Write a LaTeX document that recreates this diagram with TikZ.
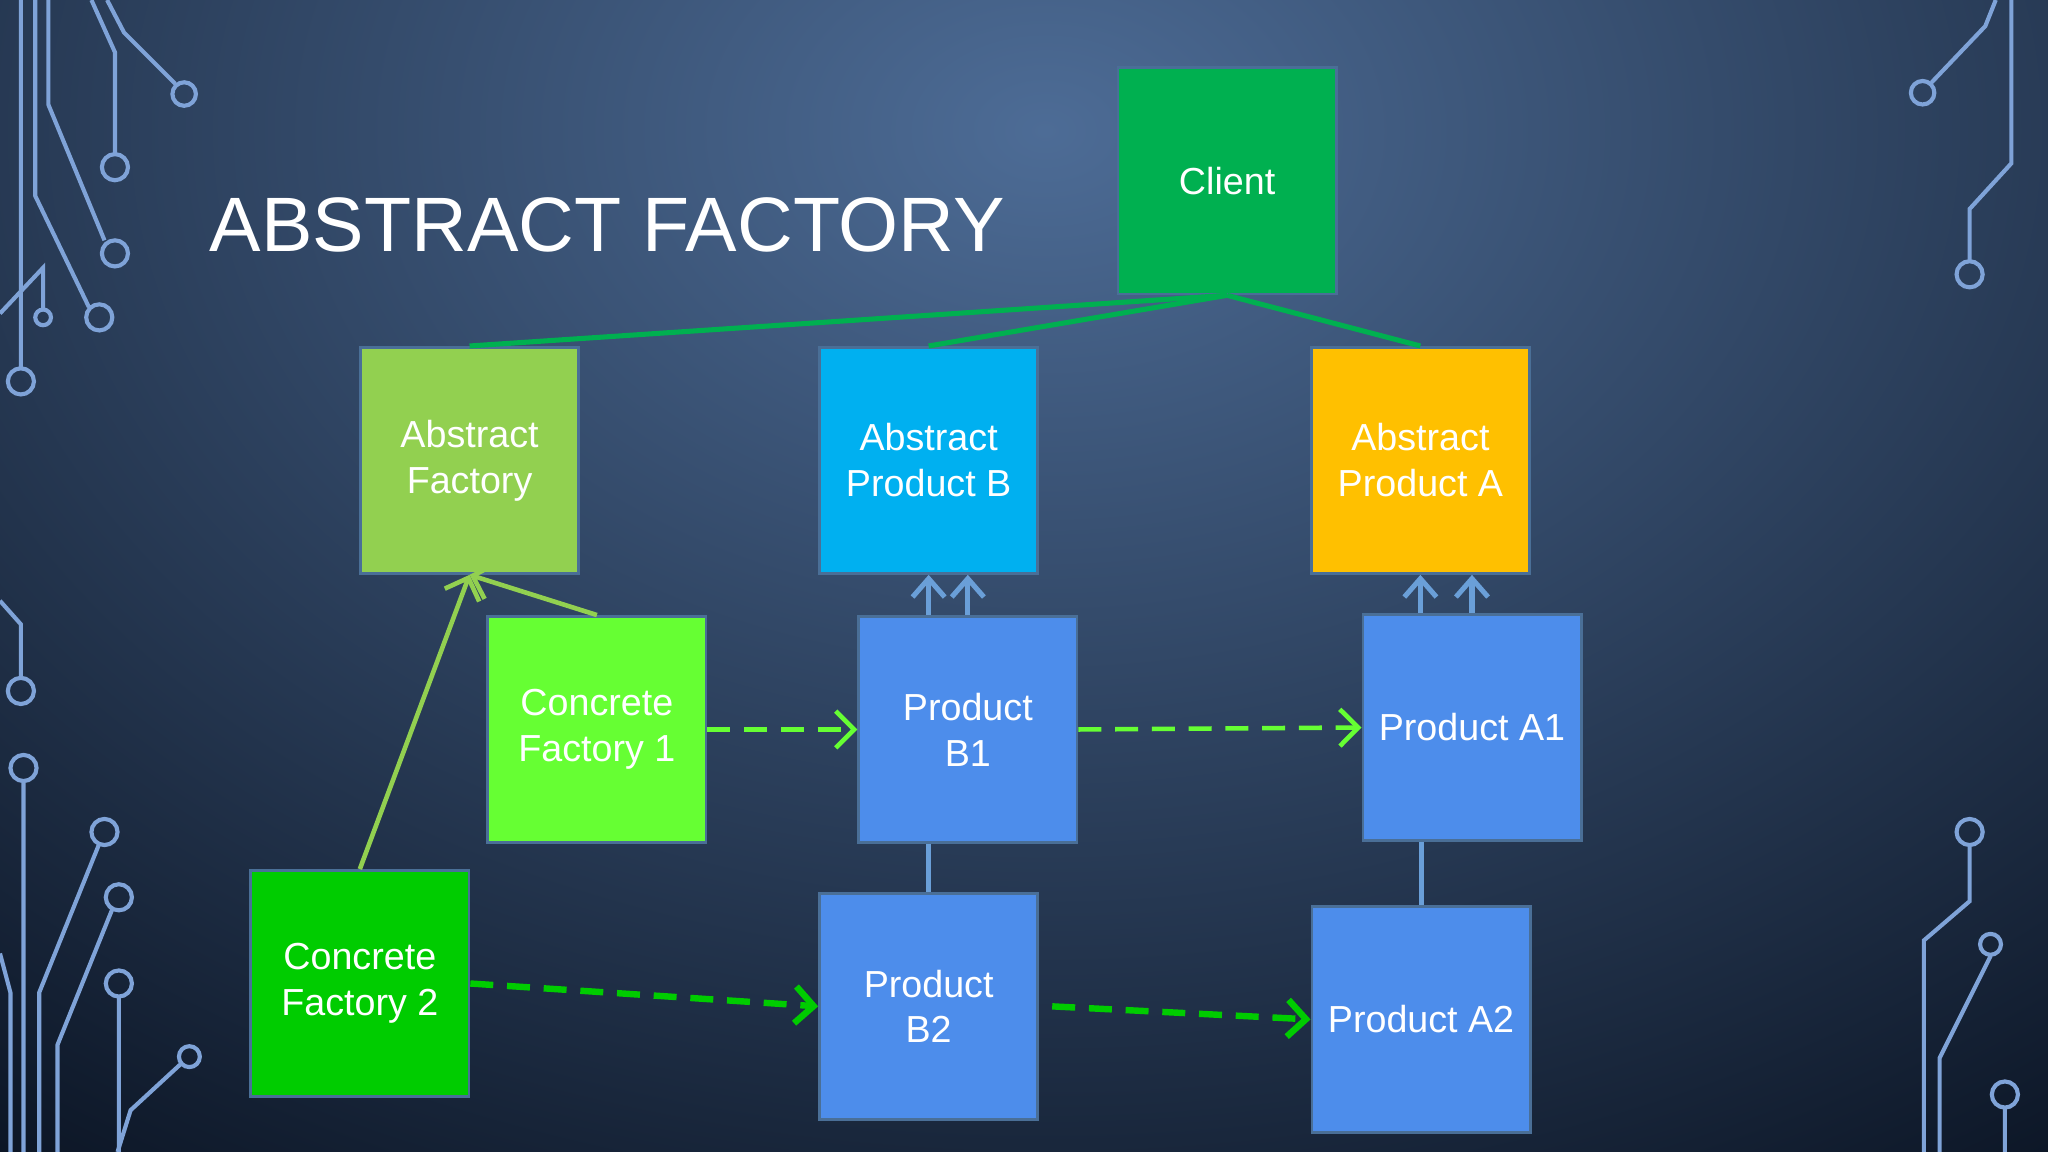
\documentclass[tikz,border=0pt]{standalone}
\usepackage{fontspec}
\setmainfont{Liberation Sans}
\usetikzlibrary{arrows.meta}
\definecolor{bgc}{HTML}{4D6C96}
\definecolor{bgd}{HTML}{0A1322}
\definecolor{circ}{HTML}{7FA3D8}
\definecolor{prod}{HTML}{4D8DEB}
\definecolor{arrb}{HTML}{6A9FD8}
\begin{document}
\begin{tikzpicture}[x=0.01cm,y=-0.01cm,
  box/.style={draw=arrb!70!black,line width=0.6pt,minimum width=1.67cm,minimum height=1.73cm,inner sep=0pt,align=center,text=white,font=\fontsize{8.2}{10}\selectfont},
  cl/.style={draw=circ,line width=0.9pt},
  gl/.style={line width=1.1pt,color={rgb,255:red,0;green,176;blue,80}},
  up/.style={draw=arrb,line width=1.1pt,-{Straight Barb[length=4pt,width=7pt]}},
  dash1/.style={color={rgb,255:red,102;green,255;blue,51},line width=1pt,dash pattern=on 5pt off 3pt,-{Straight Barb[length=4pt,width=8pt]}},
  dash2/.style={color={rgb,255:red,0;green,204;blue,0},line width=1.4pt,dash pattern=on 5pt off 3pt,-{Straight Barb[length=4pt,width=8pt]}},
  lg/.style={color={rgb,255:red,146;green,208;blue,80},line width=1pt,-{Straight Barb[length=4pt,width=8pt]}}]
\useasboundingbox (0,0) rectangle (1568,882);
\shade[inner color=bgc,outer color=bgd] (-600,-900) rectangle (2200,1100);
% circuits
\begin{scope}[cl]
\draw (16,0)--(16,282) (16,292) circle[radius=10];
\draw (27,0)--(27,150)--(68,235) (76,243) circle[radius=10];
\draw (37,0)--(37,80)--(80,184) (88,194) circle[radius=10];
\draw (70,0)--(88,40)--(88,118) (88,128) circle[radius=10];
\draw (82,0)--(95,25)--(134,64) (141,72) circle[radius=9];
\draw (0,240)--(33,205)--(33,237) (33,243) circle[radius=6];
\draw (0,460)--(16,478)--(16,519) (16,529) circle[radius=10];
\draw (18,598)--(18,882) (18,588) circle[radius=10];
\draw (0,730)--(8,760)--(8,882);
\draw (30,882)--(30,760)--(76,646) (80,637) circle[radius=10];
\draw (44,882)--(44,800)--(86,696) (91,687) circle[radius=10];
\draw (91,763)--(91,882) (91,753) circle[radius=10];
\draw (90,882)--(100,850)--(138,815) (145,809) circle[radius=8];
\draw (1528,0)--(1520,20)--(1479,63) (1472,71) circle[radius=9];
\draw (1540,0)--(1540,125)--(1508,160)--(1508,200) (1508,210) circle[radius=10];
\draw (1508,647)--(1508,690)--(1473,720)--(1473,882) (1508,637) circle[radius=10];
\draw (1524,732)--(1485,810)--(1485,882) (1524,723) circle[radius=8];
\draw (1535,848)--(1535,882) (1535,838) circle[radius=10];
\end{scope}
\node[text=white,anchor=west,inner sep=0pt,font=\fontsize{16.8}{20}\selectfont] (title) at (160,172) {ABSTRACT FACTORY};
% boxes
\node[box,fill={rgb,255:red,0;green,176;blue,80}] (client) at (939.5,138.5) {Client};
\node[box,fill={rgb,255:red,146;green,208;blue,80}] (af) at (359.5,352.5) {Abstract\\Factory};
\node[box,fill={rgb,255:red,0;green,176;blue,240}] (apb) at (711,352.5) {Abstract\\Product B};
\node[box,fill={rgb,255:red,255;green,192;blue,0}] (apa) at (1087.5,352.5) {Abstract\\Product A};
\node[box,fill={rgb,255:red,102;green,255;blue,51}] (cf1) at (457,558.5) {Concrete\\Factory 1};
\node[box,fill=prod] (b1) at (741,558.5) {Product\\B1};
\node[box,fill=prod] (a1) at (1127,557) {Product A1};
\node[box,fill={rgb,255:red,0;green,204;blue,0}] (cf2) at (275.5,753) {Concrete\\Factory 2};
\node[box,fill=prod] (b2) at (711,770.5) {Product\\B2};
\node[box,fill=prod] (a2) at (1088,780.5) {Product A2};
% client lines
\draw[gl] (client.south) -- (af.north);
\draw[gl] (client.south) -- (apb.north);
\draw[gl] (client.south) -- (apa.north);
% factory arrows
\draw[lg] (cf1.north) -- (af.south);
\draw[lg] (cf2.north) -- (af.south);
% inheritance arrows
\draw[up] (b1.north -| apb.south) -- (apb.south);
\draw[up] (b1.north) -- (b1.north |- apb.south);
\draw[up] (a1.north -| apa.south) -- (apa.south);
\draw[up] (a1.north) -- (a1.north |- apa.south);
% vertical links
\draw[draw=arrb,line width=1.1pt] (b1.south -| b2.north) -- (b2.north);
\draw[draw=arrb,line width=1.1pt] (a1.south -| a2.north) -- (a2.north);
% dashed
\draw[dash1] (cf1.east) -- (b1.west);
\draw[dash1] (b1.east) -- (a1.west);
\draw[dash2] (cf2.east) -- (b2.west);
\draw[dash2] ([xshift=0.1cm]b2.east) -- (a2.west);
\end{tikzpicture}
\end{document}
